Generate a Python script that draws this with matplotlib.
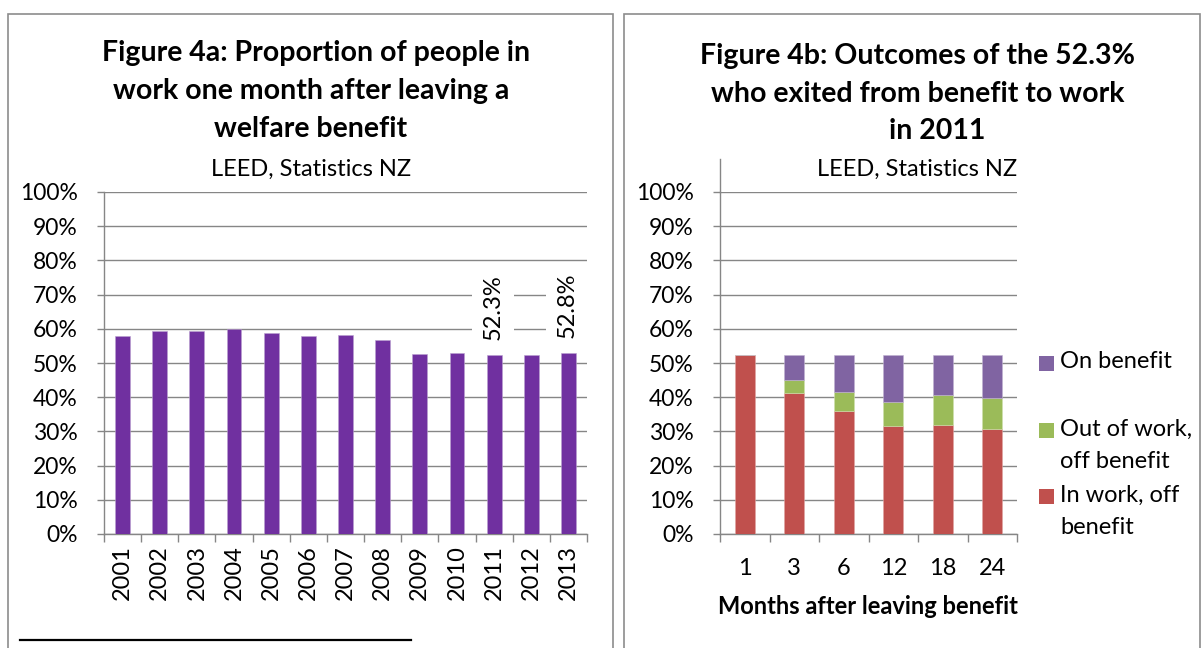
import numpy as np
import matplotlib
matplotlib.use('Agg')
import matplotlib.pyplot as plt
from matplotlib.patches import Rectangle
from matplotlib.lines import Line2D

# Figure 4a: share of benefit leavers in work one month later
years = ['2001', '2002', '2003', '2004', '2005', '2006', '2007',
         '2008', '2009', '2010', '2011', '2012', '2013']
in_work = [58.0, 59.4, 59.3, 59.9, 58.9, 57.9, 58.1, 56.7, 52.7, 52.8, 52.3, 52.3, 52.8]
labelled_years = ['2011', '2013']

# Figure 4b: outcomes of the 2011 exit cohort
months = ['1', '3', '6', '12', '18', '24']
in_work_off = [52.3, 41.2, 36.1, 31.6, 31.8, 30.6]
out_of_work_off = [0.0, 3.8, 5.5, 7.0, 8.7, 9.1]
on_benefit = [0.0, 7.3, 10.7, 13.7, 11.8, 12.6]

W, H = 1202, 648
plt.rcParams['font.family'] = ['Lato', 'DejaVu Sans']

GRID = '#868686'
PURPLE = '#7030A0'
RED = '#C0504D'
GREEN = '#9BBB59'
LAV = '#8064A2'
FS = 17
TITLE_FS = 20.5


def fx(px):
    return px / W


def fy(py):
    return 1 - py / H


def box(x0, y0, x1, y1):
    return [fx(x0), fy(y1), fx(x1) - fx(x0), fy(y0) - fy(y1)]


def style_axes(ax, n):
    ax.set_ylim(0, 100)
    ax.set_xlim(-0.5, n - 0.5)
    ax.set_yticks(np.arange(0, 101, 10))
    ax.set_yticklabels([f'{v}%' for v in range(0, 101, 10)], fontsize=16.5)
    ax.yaxis.grid(True, color=GRID, lw=1.0)
    ax.set_axisbelow(True)
    for s in ['top', 'right']:
        ax.spines[s].set_visible(False)
    for s in ['left', 'bottom']:
        ax.spines[s].set_color(GRID)
        ax.spines[s].set_linewidth(1.0)
    ax.tick_params(axis='y', length=5, width=1.0, color=GRID, pad=14)
    ax.set_xticks(np.arange(-0.5, n, 1.0), minor=True)
    ax.tick_params(axis='x', which='minor', length=6, width=1.0, color=GRID)
    ax.tick_params(axis='x', which='major', length=0)


def title_lines(lines):
    for txt, cx, cy in lines:
        fig.text(fx(cx), fy(cy), txt, ha='center', va='center',
                 fontsize=TITLE_FS, fontweight='bold')


fig = plt.figure(figsize=(W / 100, H / 100), dpi=100)

# panel frames
for x0, x1 in [(8, 613), (624, 1200)]:
    fig.patches.append(Rectangle((fx(x0), fy(700)), fx(x1) - fx(x0), fy(14) - fy(700),
                                 transform=fig.transFigure, fill=False,
                                 ec='#8c8c8c', lw=1.2))

# ---- left chart ----
ax1 = fig.add_axes(box(104, 192, 587, 534))
x1 = np.arange(len(years))
ax1.bar(x1, in_work, width=0.4, color=PURPLE, edgecolor='#b9a0cf', lw=0.4, zorder=3)
style_axes(ax1, len(years))
ax1.set_xticks(x1)
ax1.set_xticklabels(years, rotation=90, fontsize=FS)
ax1.tick_params(axis='x', which='major', pad=8)

for yr in labelled_years:
    i = years.index(yr)
    ax1.annotate(f'{in_work[i]:.1f}%', (x1[i], in_work[i]), xytext=(-1, 11),
                 textcoords='offset points', rotation=90, ha='center', va='bottom',
                 fontsize=FS, zorder=4,
                 bbox=dict(boxstyle='square,pad=0.45', fc='white', ec='none'))

title_lines([('Figure 4a: Proportion of people in', 316, 53),
             ('work one month after leaving a', 311, 91),
             ('welfare benefit', 311, 129)])
fig.text(fx(311), fy(169), 'LEED, Statistics NZ', ha='center', va='center', fontsize=FS)

# ---- right chart ----
ax2 = fig.add_axes(box(720, 192, 1017, 534))
x2 = np.arange(len(months))
ax2.bar(x2, in_work_off, width=0.4, color=RED, edgecolor='#e0a5a3', lw=0.4, zorder=3)
ax2.bar(x2, out_of_work_off, width=0.4, bottom=in_work_off, color=GREEN,
        edgecolor='#cfe0ad', lw=0.4, zorder=3)
bottom2 = np.array(in_work_off) + np.array(out_of_work_off)
ax2.bar(x2, on_benefit, width=0.4, bottom=bottom2, color=LAV,
        edgecolor='#c0b2d1', lw=0.4, zorder=3)
style_axes(ax2, len(months))
ax2.set_xticks(x2)
ax2.set_xticklabels(months, fontsize=FS)
ax2.tick_params(axis='x', which='major', pad=17)

# value axis line runs up past the 100% gridline
fig.add_artist(Line2D([fx(720), fx(720)], [fy(159), fy(192)], color=GRID, lw=1.0))

title_lines([('Figure 4b: Outcomes of the 52.3%', 917, 56),
             ('who exited from benefit to work', 918, 94),
             ('in 2011', 937, 131)])
fig.text(fx(917), fy(169), 'LEED, Statistics NZ', ha='center', va='center', fontsize=FS)
fig.text(fx(868), fy(607), 'Months after leaving benefit', ha='center', va='center',
         fontsize=FS, fontweight='bold')

# legend, drawn top to bottom
legend_items = [(LAV, ['On benefit'], 363),
                (GREEN, ['Out of work,', 'off benefit'], 430),
                (RED, ['In work, off', 'benefit'], 496)]
for col, rows, yy in legend_items:
    fig.patches.append(Rectangle((fx(1039), fy(yy + 7.5)), fx(15), 15 / H,
                                 transform=fig.transFigure, fc=col, ec='none'))
    for k, row in enumerate(rows):
        fig.text(fx(1060), fy(yy - 1 + 32.5 * k), row, ha='left', va='center', fontsize=FS)

# footnote separator
fig.add_artist(Line2D([fx(20), fx(411)], [fy(640), fy(640)], color='black', lw=1.6))

fig.savefig('out.png', dpi=100)
